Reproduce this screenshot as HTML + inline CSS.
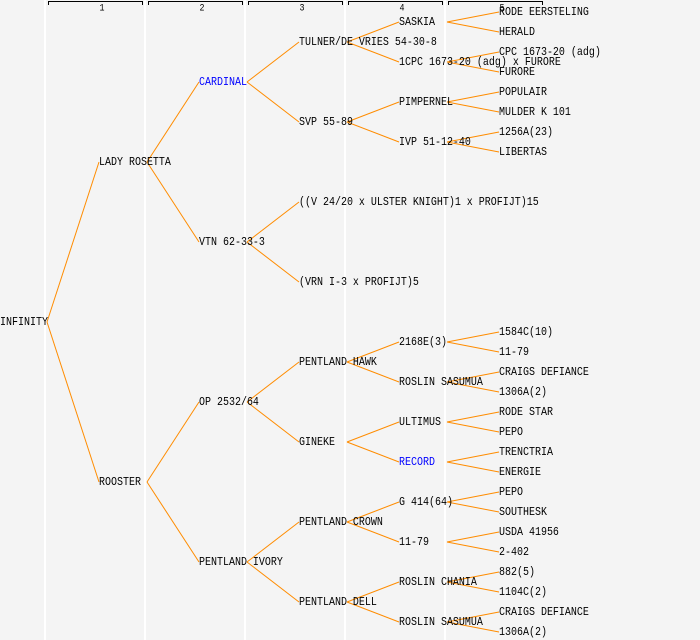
<!DOCTYPE html>
<html><head><meta charset="utf-8"><style>
html,body{margin:0;padding:0;background:#f4f4f4;}
svg{display:block;}
text{font-family:"Liberation Mono",monospace;font-size:12px;fill:#000;dominant-baseline:central;}
.b{fill:#0000ff;}
.h{font-size:10px;text-anchor:middle;}
line.c{stroke:#ff8c00;stroke-width:1;}
</style></head><body>
<svg width="700" height="640" viewBox="0 0 700 640" xmlns="http://www.w3.org/2000/svg">
<rect width="700" height="640" fill="#f4f4f4"/>
<g fill="#ffffff">
<rect x="44" y="0" width="2" height="640"/>
<rect x="144" y="0" width="2" height="640"/>
<rect x="244" y="0" width="2" height="640"/>
<rect x="344" y="0" width="2" height="640"/>
<rect x="444" y="0" width="2" height="640"/>
</g>
<g stroke="#000" stroke-width="1" fill="none">
<path d="M48.5,5 V1.5 H142.5 V5"/>
<path d="M148.5,5 V1.5 H242.5 V5"/>
<path d="M248.5,5 V1.5 H342.5 V5"/>
<path d="M348.5,5 V1.5 H442.5 V5"/>
<path d="M448.5,5 V1.5 H542.5 V5"/>
</g>
<g transform="scale(0.8333333,1)">
<text class="h" x="122.4" y="8">1</text>
<text class="h" x="242.4" y="8">2</text>
<text class="h" x="362.4" y="8">3</text>
<text class="h" x="482.4" y="8">4</text>
<text class="h" x="602.4" y="8">5</text>
</g>
<g>
<line class="c" x1="47" y1="322" x2="99" y2="162"/>
<line class="c" x1="47" y1="322" x2="99" y2="482"/>
<line class="c" x1="147" y1="162" x2="199" y2="82"/>
<line class="c" x1="147" y1="162" x2="199" y2="242"/>
<line class="c" x1="147" y1="482" x2="199" y2="402"/>
<line class="c" x1="147" y1="482" x2="199" y2="562"/>
<line class="c" x1="247" y1="82" x2="299" y2="42"/>
<line class="c" x1="247" y1="82" x2="299" y2="122"/>
<line class="c" x1="247" y1="242" x2="299" y2="202"/>
<line class="c" x1="247" y1="242" x2="299" y2="282"/>
<line class="c" x1="247" y1="402" x2="299" y2="362"/>
<line class="c" x1="247" y1="402" x2="299" y2="442"/>
<line class="c" x1="247" y1="562" x2="299" y2="522"/>
<line class="c" x1="247" y1="562" x2="299" y2="602"/>
<line class="c" x1="347" y1="42" x2="399" y2="22"/>
<line class="c" x1="347" y1="42" x2="399" y2="62"/>
<line class="c" x1="347" y1="122" x2="399" y2="102"/>
<line class="c" x1="347" y1="122" x2="399" y2="142"/>
<line class="c" x1="347" y1="362" x2="399" y2="342"/>
<line class="c" x1="347" y1="362" x2="399" y2="382"/>
<line class="c" x1="347" y1="442" x2="399" y2="422"/>
<line class="c" x1="347" y1="442" x2="399" y2="462"/>
<line class="c" x1="347" y1="522" x2="399" y2="502"/>
<line class="c" x1="347" y1="522" x2="399" y2="542"/>
<line class="c" x1="347" y1="602" x2="399" y2="582"/>
<line class="c" x1="347" y1="602" x2="399" y2="622"/>
<line class="c" x1="447" y1="22" x2="499" y2="12"/>
<line class="c" x1="447" y1="22" x2="499" y2="32"/>
<line class="c" x1="447" y1="62" x2="499" y2="52"/>
<line class="c" x1="447" y1="62" x2="499" y2="72"/>
<line class="c" x1="447" y1="102" x2="499" y2="92"/>
<line class="c" x1="447" y1="102" x2="499" y2="112"/>
<line class="c" x1="447" y1="142" x2="499" y2="132"/>
<line class="c" x1="447" y1="142" x2="499" y2="152"/>
<line class="c" x1="447" y1="342" x2="499" y2="332"/>
<line class="c" x1="447" y1="342" x2="499" y2="352"/>
<line class="c" x1="447" y1="382" x2="499" y2="372"/>
<line class="c" x1="447" y1="382" x2="499" y2="392"/>
<line class="c" x1="447" y1="422" x2="499" y2="412"/>
<line class="c" x1="447" y1="422" x2="499" y2="432"/>
<line class="c" x1="447" y1="462" x2="499" y2="452"/>
<line class="c" x1="447" y1="462" x2="499" y2="472"/>
<line class="c" x1="447" y1="502" x2="499" y2="492"/>
<line class="c" x1="447" y1="502" x2="499" y2="512"/>
<line class="c" x1="447" y1="542" x2="499" y2="532"/>
<line class="c" x1="447" y1="542" x2="499" y2="552"/>
<line class="c" x1="447" y1="582" x2="499" y2="572"/>
<line class="c" x1="447" y1="582" x2="499" y2="592"/>
<line class="c" x1="447" y1="622" x2="499" y2="612"/>
<line class="c" x1="447" y1="622" x2="499" y2="632"/>
</g>
<g transform="scale(0.8333333,1)">
<text x="0" y="323">INFINITY</text>
<text x="118.8" y="163">LADY ROSETTA</text>
<text x="118.8" y="483">ROOSTER</text>
<text x="238.8" y="83" class="b">CARDINAL</text>
<text x="238.8" y="243">VTN 62-33-3</text>
<text x="238.8" y="403">OP 2532/64</text>
<text x="238.8" y="563">PENTLAND IVORY</text>
<text x="358.8" y="43">TULNER/DE VRIES 54-30-8</text>
<text x="358.8" y="123">SVP 55-89</text>
<text x="358.8" y="203">((V 24/20 x ULSTER KNIGHT)1 x PROFIJT)15</text>
<text x="358.8" y="283">(VRN I-3 x PROFIJT)5</text>
<text x="358.8" y="363">PENTLAND HAWK</text>
<text x="358.8" y="443">GINEKE</text>
<text x="358.8" y="523">PENTLAND CROWN</text>
<text x="358.8" y="603">PENTLAND DELL</text>
<text x="478.8" y="23">SASKIA</text>
<text x="478.8" y="63">1CPC 1673-20 (adg) x FURORE</text>
<text x="478.8" y="103">PIMPERNEL</text>
<text x="478.8" y="143">IVP 51-12-40</text>
<text x="478.8" y="343">2168E(3)</text>
<text x="478.8" y="383">ROSLIN SASUMUA</text>
<text x="478.8" y="423">ULTIMUS</text>
<text x="478.8" y="463" class="b">RECORD</text>
<text x="478.8" y="503">G 414(64)</text>
<text x="478.8" y="543">11-79</text>
<text x="478.8" y="583">ROSLIN CHANIA</text>
<text x="478.8" y="623">ROSLIN SASUMUA</text>
<text x="598.8" y="13">RODE EERSTELING</text>
<text x="598.8" y="33">HERALD</text>
<text x="598.8" y="53">CPC 1673-20 (adg)</text>
<text x="598.8" y="73">FURORE</text>
<text x="598.8" y="93">POPULAIR</text>
<text x="598.8" y="113">MULDER K 101</text>
<text x="598.8" y="133">1256A(23)</text>
<text x="598.8" y="153">LIBERTAS</text>
<text x="598.8" y="333">1584C(10)</text>
<text x="598.8" y="353">11-79</text>
<text x="598.8" y="373">CRAIGS DEFIANCE</text>
<text x="598.8" y="393">1306A(2)</text>
<text x="598.8" y="413">RODE STAR</text>
<text x="598.8" y="433">PEPO</text>
<text x="598.8" y="453">TRENCTRIA</text>
<text x="598.8" y="473">ENERGIE</text>
<text x="598.8" y="493">PEPO</text>
<text x="598.8" y="513">SOUTHESK</text>
<text x="598.8" y="533">USDA 41956</text>
<text x="598.8" y="553">2-402</text>
<text x="598.8" y="573">882(5)</text>
<text x="598.8" y="593">1104C(2)</text>
<text x="598.8" y="613">CRAIGS DEFIANCE</text>
<text x="598.8" y="633">1306A(2)</text>
</g>
</svg>
</body></html>
